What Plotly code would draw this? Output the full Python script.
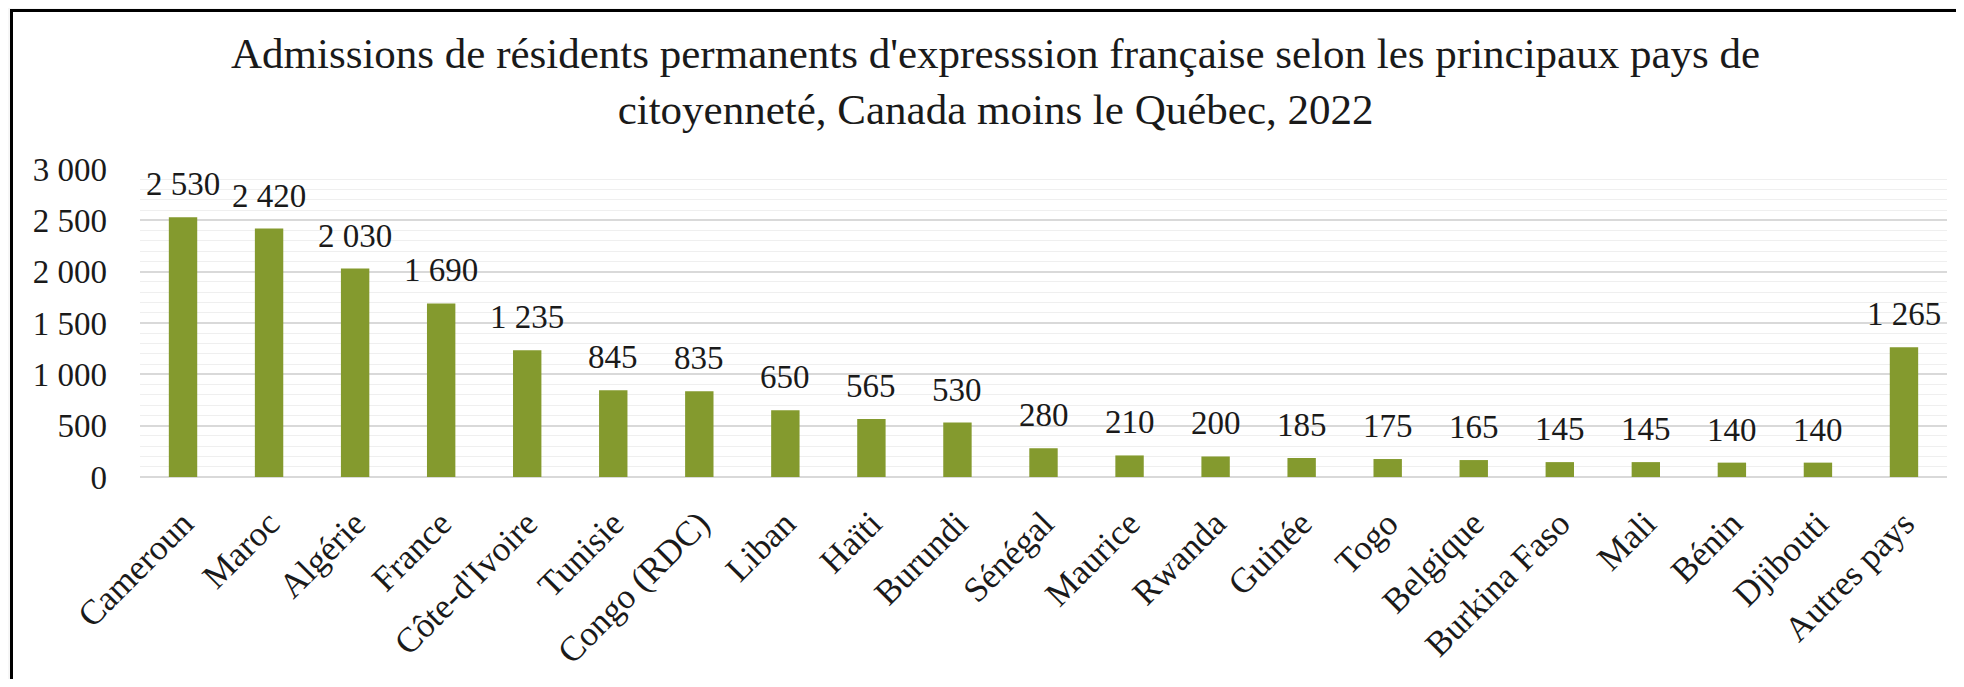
import plotly.graph_objects as go

categories = ["Cameroun", "Maroc", "Algérie", "France", "Côte-d'Ivoire", "Tunisie",
              "Congo (RDC)", "Liban", "Haïti", "Burundi", "Sénégal", "Maurice",
              "Rwanda", "Guinée", "Togo", "Belgique", "Burkina Faso", "Mali",
              "Bénin", "Djibouti", "Autres pays"]
values = [2530, 2420, 2030, 1690, 1235, 845, 835, 650, 565, 530, 280, 210,
          200, 185, 175, 165, 145, 145, 140, 140, 1265]

title_text = ("Admissions de résidents permanents d'expresssion française selon les principaux pays de"
              "<br>citoyenneté, Canada moins le Québec, 2022")

FONT = "Liberation Serif"
OFF = 8  # page body margin
W, H = 1964 - 2 * OFF, 687 - 2 * OFF
L, T = 140 - OFF, 169 - OFF
R = W - (1947 - OFF)
B = H - (477 - OFF)
pw, ph = W - L - R, H - T - B


def fmt(v):
    return f"{v:,}".replace(",", " ")


fig = go.Figure()
fig.add_trace(go.Bar(
    x=categories, y=values,
    marker=dict(color="#849A2E", line=dict(width=0)),
    hoverinfo="x+y",
))

for c, v in zip(categories, values):
    fig.add_annotation(x=c, y=v, text=fmt(v), showarrow=False,
                       yanchor="bottom", yshift=13,
                       font=dict(family=FONT, size=33, color="#1a1a1a"))

# title
fig.add_annotation(xref="paper", yref="paper",
                   x=(995 - OFF - L) / pw, y=(477 - 81.5) / ph,
                   xanchor="center", yanchor="middle", showarrow=False,
                   text=title_text,
                   font=dict(family=FONT, size=43, color="#1a1a1a"))

# chart frame
fig.add_shape(type="rect", xref="paper", yref="paper", layer="below",
              x0=(11.5 - OFF - L) / pw, x1=(2100 - L) / pw,
              y0=-800 / ph, y1=(477 - 10.5) / ph,
              line=dict(color="black", width=3), fillcolor="white")

fig.update_layout(
    width=W, height=H,
    margin=dict(l=L, r=R, t=T, b=B),
    paper_bgcolor="#f6f6f6", plot_bgcolor="white",
    separators=", ",
    bargap=0.67,
    showlegend=False,
    font=dict(family=FONT, color="#1a1a1a"),
    xaxis=dict(tickangle=-45, tickfont=dict(size=35), showgrid=False,
               showline=False, ticks="", ticklabelstandoff=18),
    yaxis=dict(range=[0, 3000], dtick=500, tickformat=",d",
               tickfont=dict(size=33), showgrid=True, gridcolor="#d9d9d9",
               gridwidth=1.5, zeroline=True, zerolinecolor="#d9d9d9",
               zerolinewidth=1.5, ticklabelstandoff=32,
               minor=dict(dtick=100, showgrid=True, gridcolor="#efefef", gridwidth=1)),
)

fig.write_html("out.html")
